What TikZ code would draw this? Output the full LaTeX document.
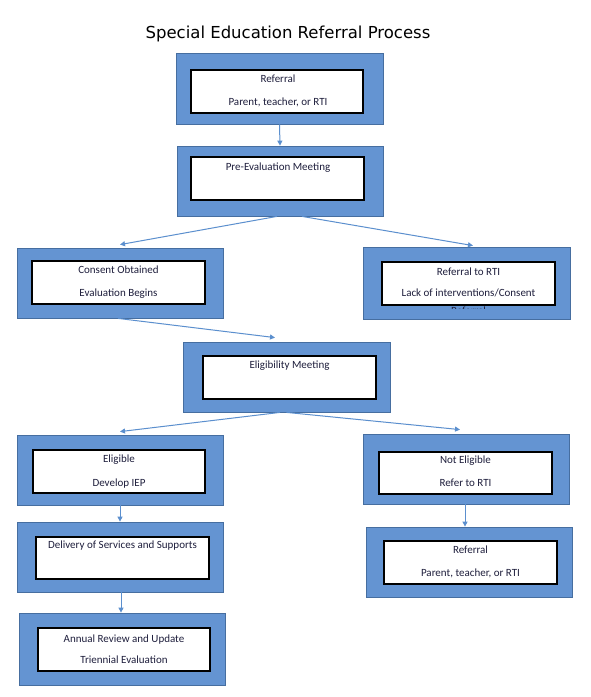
\documentclass[tikz,border=0pt]{standalone}
\usepackage{fontspec}
\setmainfont{Carlito}
\newfontfamily\titlefont{DejaVu Sans}
\usetikzlibrary{arrows.meta,shadows}
\definecolor{boxblue}{RGB}{100,148,210}
\definecolor{boxedge}{RGB}{70,110,160}
\definecolor{arrowblue}{RGB}{91,143,206}
\definecolor{txt}{RGB}{30,30,60}
\tikzset{
  outerbox/.style={draw=boxedge, line width=0.8pt, fill=boxblue, minimum width=206pt, minimum height=70pt, inner sep=0pt},
  innerbox/.style={draw=black, line width=1.2pt, fill=white, minimum width=173pt, minimum height=43pt, inner sep=0pt,
    drop shadow={shadow xshift=1pt, shadow yshift=-1pt, fill=gray!60, opacity=0.6}},
  lbl/.style={font=\fontsize{11}{13}\selectfont, text=txt, anchor=base, inner sep=0pt},
  conn/.style={draw=arrowblue, line width=1pt, -{Triangle[length=5pt,width=5pt]}}
}
\begin{document}
\begin{tikzpicture}[x=1pt,y=-1pt]
\useasboundingbox[fill=white] (0,0) rectangle (591,697);
\node[font=\titlefont\fontsize{16.5}{19}\selectfont, anchor=base, inner sep=0pt] (title) at (288,38) {Special Education Referral Process};

% outer boxes
\node[outerbox, minimum width=207pt, minimum height=71pt] (ref1) at (279.5,88.5) {};
\node[outerbox] (pre) at (280,181) {};
\node[outerbox] (consent) at (120,283) {};
\node[outerbox, minimum width=207pt, minimum height=72pt] (rti) at (466.5,283) {};
\node[outerbox, minimum width=207pt] (elig) at (286.5,377) {};
\node[outerbox] (eligible) at (120,470) {};
\node[outerbox] (delivery) at (120,557) {};
\node[outerbox, minimum height=72pt] (annual) at (122,649) {};
\node[outerbox] (notelig) at (466,469) {};
\node[outerbox] (ref2) at (469,562) {};

% inner boxes
\node[innerbox, minimum width=172pt] (ref1i) at (277,91.5) {};
\node[innerbox] (prei) at (277.5,178.5) {};
\node[innerbox] (consenti) at (118.5,282.5) {};
\node[innerbox] (rtii) at (468.5,283.5) {};
\node[innerbox] (eligi) at (289.5,377.5) {};
\node[innerbox, minimum width=172pt] (eligiblei) at (119,471.5) {};
\node[innerbox, minimum height=42pt] (deliveryi) at (122.5,558) {};
\node[innerbox, minimum width=172pt] (annuali) at (124,649.5) {};
\node[innerbox, minimum height=42pt] (noteligi) at (465.5,473) {};
\node[innerbox] (ref2i) at (470.5,562.5) {};

% labels
\node[lbl] (t1a) at (278,82) {Referral};
\node[lbl] (t1b) at (278,105) {Parent, teacher, or RTI};
\node[lbl] (t2) at (278,170) {Pre-Evaluation Meeting};
\node[lbl] (t3a) at (118.5,273) {Consent Obtained};
\node[lbl] (t3b) at (118.5,296) {Evaluation Begins};
\node[lbl] (t4a) at (468.5,275) {Referral to RTI};
\node[lbl] (t4b) at (468.5,296) {Lack of interventions/Consent};
\begin{scope}
\clip (382,262) rectangle (555,308.5);
\node[lbl] (t4c) at (468.5,314.5) {Referral};
\end{scope}
\node[lbl] (t5) at (289.5,368) {Eligibility Meeting};
\node[lbl] (t6a) at (119,462) {Eligible};
\node[lbl] (t6b) at (119,486) {Develop IEP};
\node[lbl] (t7) at (122.5,548) {Delivery of Services and Supports};
\node[lbl] (t8a) at (124,642) {Annual Review and Update};
\node[lbl] (t8b) at (124,663) {Triennial Evaluation};
\node[lbl] (t9a) at (465.5,463) {Not Eligible};
\node[lbl] (t9b) at (465.5,486) {Refer to RTI};
\node[lbl] (t10a) at (470.5,553) {Referral};
\node[lbl] (t10b) at (470.5,576) {Parent, teacher, or RTI};

% connectors
\draw[conn] (ref1.south) -- (pre.north);
\draw[conn] ([xshift=-3pt]pre.south) -- ([yshift=3pt]consent.north);
\draw[conn] ([xshift=22pt]pre.south) -- ([xshift=6.5pt,yshift=1pt]rti.north);
\draw[conn] ([xshift=-2pt]consent.south) -- ([xshift=-11.5pt,yshift=4pt]elig.north);
\draw[conn] ([xshift=-6.5pt]elig.south) -- ([yshift=3pt]eligible.north);
\draw[conn] (elig.south) -- ([xshift=-6pt,yshift=4pt]notelig.north);
\draw[conn] (eligible.south) -- (eligible.south |- delivery.north);
\draw[conn] ([xshift=1pt]delivery.south) -- ([xshift=1pt]delivery.south |- annual.north);
\draw[conn] ([xshift=-1pt]notelig.south) -- ([xshift=-1pt]notelig.south |- ref2.north);
\end{tikzpicture}
\end{document}
